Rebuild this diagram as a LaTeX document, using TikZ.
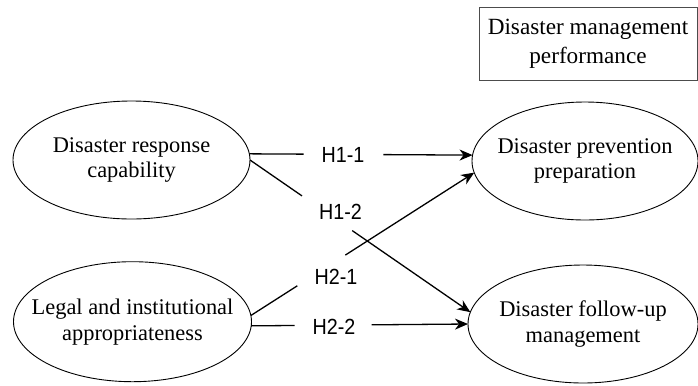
\documentclass[tikz,border=0pt]{standalone}
\usepackage{fontspec}
\setmainfont{Liberation Serif}
\newfontfamily\hfont{Liberation Sans}
\usetikzlibrary{shapes.geometric,arrows.meta,calc}
\tikzset{
  oval/.style={draw=black, line width=0.9bp, ellipse, inner xsep=-40bp, inner ysep=-25bp,
    outer sep=0pt, align=center, font=\fontsize{22.5}{26}\selectfont},
  hyplabel/.style={inner sep=0pt, font=\hfont\fontsize{22}{24}\selectfont},
  link/.style={draw=black, line width=1.3bp},
  arr/.style={link, -{Stealth[length=13bp,width=11bp,inset=4bp]}},
  titlebox/.style={draw=black!70, line width=1bp, align=center,
    font=\fontsize{23.3}{29}\selectfont, inner sep=0pt}
}
\begin{document}
\begin{tikzpicture}[x=1bp,y=-1bp]
\useasboundingbox (0,0) rectangle (698,385);
\node[titlebox, minimum width=218bp, minimum height=73bp] (perf) at (588,44) {Disaster management\\performance};
\node[oval, minimum width=237bp, minimum height=118bp] (e1) at (131.5,160) {Disaster response\\capability};
\node[oval, minimum width=238bp, minimum height=120bp] (e2) at (132.5,321.7) {Legal and institutional\\appropriateness};
\node[oval, minimum width=226bp, minimum height=118bp] (e3) at (585,161) {Disaster prevention\\preparation};
\node[oval, minimum width=230bp, minimum height=118bp] (e4) at (583,324) {Disaster follow-up\\management};
% labels
\node[hyplabel] (h11) at (343,155) {\scalebox{0.9}[1]{H1-1}};
\node[hyplabel] (h12) at (340.5,212) {\scalebox{0.9}[1]{H1-2}};
\node[hyplabel] (h21) at (336,276.5) {\scalebox{0.9}[1]{H2-1}};
\node[hyplabel] (h22) at (334,327) {\scalebox{0.9}[1]{H2-2}};
% H1-1
\draw[link] (e1.3) -- ($(e1.3)!0.243!(e3.177)$);
\draw[arr] ($(e1.3)!0.6!(e3.177)$) -- (e3.177);
% H1-2
\draw[link] (e1.0) -- ($(e1.0)!0.236!(e4.174)$);
\draw[arr] ($(e1.0)!0.464!(e4.174)$) -- (e4.174);
% H2-1
\draw[link] (e2.3) -- ($(e2.3)!0.208!(e3.186)$);
\draw[arr] ($(e2.3)!0.423!(e3.186)$) -- (e3.186);
% H2-2
\draw[link] (e2.-2) -- ($(e2.-2)!0.2!(e4.180)$);
\draw[arr] ($(e2.-2)!0.555!(e4.180)$) -- (e4.180);
\end{tikzpicture}
\end{document}
